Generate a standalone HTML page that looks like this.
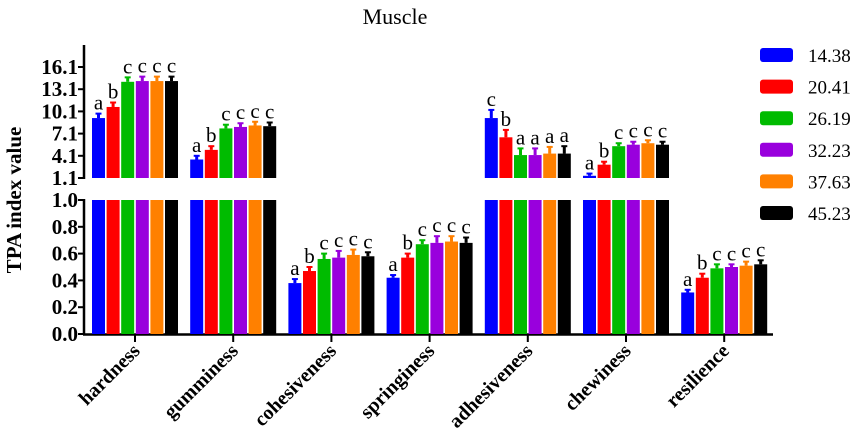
<!DOCTYPE html>
<html><head><meta charset="utf-8">
<style>
html,body{margin:0;padding:0;background:#fff;}
svg{display:block;}
text{font-family:"Liberation Serif",serif;}
</style></head>
<body>
<svg id="chart" width="855" height="441" xmlns="http://www.w3.org/2000/svg">
<text x="395" y="24" font-size="22" text-anchor="middle">Muscle</text>
<text transform="translate(21,200) rotate(-90)" font-size="21" font-weight="bold" text-anchor="middle">TPA index value</text>
<g id="plot"></g>
<g id="legend"></g>
</svg>
<script>
const categories = ["hardness","gumminess","cohesiveness","springiness","adhesiveness","chewiness","resilience"];
const seriesNames = ["14.38","20.41","26.19","32.23","37.63","45.23"];
const colors = ["#0000ff","#ff0000","#00bb00","#9900dd","#ff8000","#000000"];
// upper-panel values (scale 1.1-16.1) for hardness,gumminess,adhesiveness,chewiness; lower-panel (0-1) for others
const s1438 = [9.2, 3.6, 0.38, 0.42, 9.2, 1.4, 0.31];
const s2041 = [10.7, 4.9, 0.47, 0.57, 6.6, 2.9, 0.42];
const s2619 = [14.1, 7.8, 0.56, 0.67, 4.2, 5.4, 0.49];
const s3223 = [14.2, 8.0, 0.57, 0.68, 4.2, 5.6, 0.50];
const s3763 = [14.2, 8.2, 0.59, 0.69, 4.4, 5.8, 0.51];
const s4523 = [14.2, 8.1, 0.58, 0.68, 4.4, 5.6, 0.52];
const errs = [[0.6,0.5,0.03,0.02,1.1,0.3,0.02],[0.6,0.5,0.03,0.03,1.0,0.4,0.03],[0.6,0.5,0.04,0.03,0.9,0.4,0.03],[0.6,0.5,0.05,0.05,0.9,0.4,0.02],[0.6,0.5,0.04,0.04,0.9,0.4,0.03],[0.6,0.5,0.03,0.04,1.0,0.4,0.03]];
const letters = [["a","a","a","a","c","a","a"],["b","b","b","b","b","b","b"],["c","c","c","c","a","c","c"],["c","c","c","c","a","c","c"],["c","c","c","c","a","c","c"],["c","c","c","c","a","c","c"]];
const broken = [true,true,false,false,true,true,false];
const upperTicks = [1.1,4.1,7.1,10.1,13.1,16.1];
const lowerTicks = [0.0,0.2,0.4,0.6,0.8,1.0];
const series = [s1438,s2041,s2619,s3223,s3763,s4523];

const NS="http://www.w3.org/2000/svg";
const plot=document.getElementById('plot');
const legend=document.getElementById('legend');
function mk(tag,attrs,parent){const e=document.createElementNS(NS,tag);for(const k in attrs)e.setAttribute(k,attrs[k]);parent.appendChild(e);return e;}
const yU=v=>178-(v-1.1)*(111/15);
const yL=v=>334-v*134;
const xC=i=>135+i*98.2;
const barW=13, pitch=14.6;

let e=mk('line',{x1:84,y1:45,x2:84,y2:179,stroke:'#000','stroke-width':2.5},plot);


e=mk('line',{x1:84,y1:199,x2:84,y2:335,stroke:'#000','stroke-width':2.5},plot);


e=mk('line',{x1:83,y1:334.5,x2:773,y2:334.5,stroke:'#000','stroke-width':2.5},plot);


upperTicks.forEach(t=>{
  mk('line',{x1:78,y1:yU(t),x2:85,y2:yU(t),stroke:'#000','stroke-width':2},plot);
  const tx=mk('text',{x:78,y:yU(t)+7,'font-size':21,'font-weight':'bold','text-anchor':'end'},plot);
  tx.textContent=t.toFixed(1);
  
  
});
lowerTicks.forEach(t=>{
  mk('line',{x1:78,y1:yL(t),x2:85,y2:yL(t),stroke:'#000','stroke-width':2},plot);
  const tx=mk('text',{x:78,y:yL(t)+7,'font-size':21,'font-weight':'bold','text-anchor':'end'},plot);
  tx.textContent=t.toFixed(1);
  
  
});
categories.forEach((c,i)=>{
  const x=xC(i);
  mk('line',{x1:x,y1:334,x2:x,y2:342,stroke:'#000','stroke-width':2},plot);
  const tx=mk('text',{transform:`translate(${x+6},${352}) rotate(-45)`,'font-size':20,'font-weight':'bold','text-anchor':'end'},plot);
  tx.textContent=c;
  
  
  series.forEach((s,j)=>{
    const bx=x-43+j*pitch;
    const v=s[i], er=errs[j][i];
    let top, etop;
    if(broken[i]){
      const r1=mk('rect',{x:bx,y:yL(1.0),width:barW,height:yL(0)-yL(1.0),fill:colors[j]},plot);
      
      
      top=yU(v); etop=yU(v+er);
      const r2=mk('rect',{x:bx,y:top,width:barW,height:yU(1.1)-top,fill:colors[j]},plot);
      
      
    } else {
      top=yL(v); etop=yL(v+er);
      const r=mk('rect',{x:bx,y:top,width:barW,height:yL(0)-top,fill:colors[j]},plot);
      
      
    }
    mk('line',{x1:bx+barW/2,y1:top,x2:bx+barW/2,y2:etop,stroke:colors[j],'stroke-width':3},plot);
    mk('line',{x1:bx+barW/2-3,y1:etop,x2:bx+barW/2+3,y2:etop,stroke:colors[j],'stroke-width':2},plot);
    const lt=mk('text',{x:bx+barW/2,y:etop-4,'font-size':21,'text-anchor':'middle'},plot);
    lt.textContent=letters[j][i];
    
    
  });
});
seriesNames.forEach((n,j)=>{
  const y=55+j*31.6;
  const r=mk('rect',{x:760,y:y-7,width:33,height:14,rx:3,fill:colors[j]},legend);
  
  
  const t=mk('text',{x:808,y:y+7,'font-size':19},legend);
  t.textContent=n;
  
  
});
</script>
</body></html>
